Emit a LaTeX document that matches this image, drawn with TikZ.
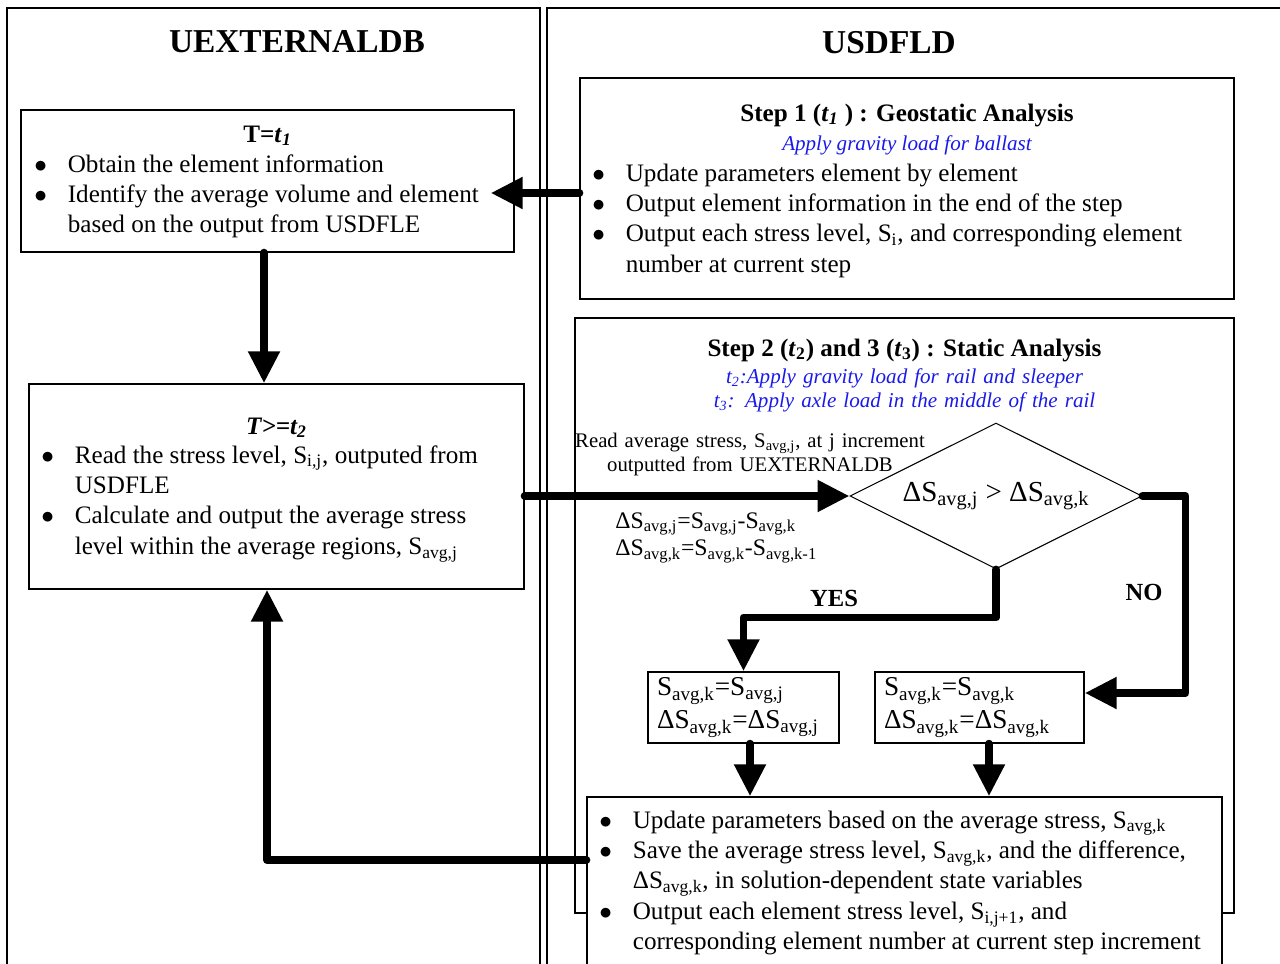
\documentclass[tikz,border=0pt]{standalone}
\usepackage{fontspec}
\setmainfont{Liberation Serif}
\usetikzlibrary{arrows.meta,shapes.geometric}

\definecolor{noteblue}{RGB}{25,25,235}
\newcommand{\bodyfont}{\fontsize{14.3}{17.35}\selectfont}
\newcommand{\sbs}[1]{\textsubscript{#1}}
\newcommand{\dotb}{\hspace{0.05cm}$\bullet$}
\newenvironment{blist}{\begin{tabular}[t]{@{}p{0.72cm}@{}l@{}}}{\end{tabular}}

\begin{document}
\begin{tikzpicture}[x=0.02cm, y=-0.02cm,
    box/.style ={draw, line width=0.8pt, inner sep=0pt},
    flow/.style={line width=4.5pt, line cap=round, line join=round,
                 -{Triangle[length=0.64cm,width=0.6cm]}},
    lst/.style ={anchor=base west, inner sep=0pt, font=\bodyfont},
    ttl/.style ={anchor=base, inner sep=0pt, font=\bodyfont\bfseries},
    note/.style={anchor=base, inner sep=0pt, text=noteblue, font=\fontsize{12}{13.7}\selectfont\itshape},
    head/.style={inner sep=0pt, font=\fontsize{19}{22}\selectfont\bfseries},
    lbl/.style ={inner sep=0pt, font=\fontsize{14}{16}\selectfont\bfseries}]
   \useasboundingbox (0,0) rectangle (1280,963);
   \clip (0,0) rectangle (1280,963);
   % the two columns
   \draw[line width=0.6pt] (7,8) rectangle (540,1000);
   \draw[line width=0.6pt] (547,8) rectangle (1300,1000);
   \node[head] (lhead) at (297,42) {UEXTERNALDB};
   \node[head] (rhead) at (889,43) {USDFLD};

   % UEXTERNALDB side
   \node[box, minimum width=9.86cm, minimum height=2.84cm] (t1) at (267.5,181) {};
   \node[ttl] (t1ttl) at (267.5,142) {T=\textit{t}\sbs{\textit{1}}};
   \node[lst] (t1lst) at (31.5,172) {\begin{blist}
      \dotb & Obtain the element information\\
      \dotb & Identify the average volume and element\\
            & based on the output from USDFLE
      \end{blist}};

   \node[box, minimum width=9.9cm, minimum height=4.1cm] (t2) at (276.5,486.5) {};
   \node[ttl] (t2ttl) at (276.5,434) {\textit{T>=t\sbs{2}}};
   \node[lst] (t2lst) at (38.5,463) {\begin{blist}
      \dotb & Read the stress level, S\sbs{i,j}, outputed from\\
            & USDFLE\\
      \dotb & Calculate and output the average stress\\
            & level within the average regions, S\sbs{avg,j}
      \end{blist}};

   % USDFLD side
   \node[box, minimum width=13.08cm, minimum height=4.42cm] (st1) at (907,188.5) {};
   \node[ttl] (st1ttl) at (907,121) {Step 1 (\textit{t}\sbs{\textit{1}} ) : Geostatic Analysis};
   \node[note] (st1note) at (907,150) {Apply gravity load for ballast};
   \node[lst] (st1lst) at (589.5,181) {\begin{blist}
      \dotb & Update parameters element by element\\
      \dotb & Output element information in the end of the step\\
      \dotb & Output each stress level, S\sbs{i}, and corresponding element\\
            & number at current step
      \end{blist}};

   \node[box, minimum width=13.18cm, minimum height=11.9cm] (st2) at (904.5,615.5) {};
   \node[ttl] (st2ttl) at (904.5,356) {Step 2 (\textit{t}\sbs{2}) and 3 (\textit{t}\sbs{3}) : Static Analysis};
   \node[note, text width=9cm, align=center] (st2note) at (904.5,383)
      {t\sbs{2}:Apply gravity load for rail and sleeper\\ t\sbs{3}: Apply axle load in the middle of the rail};

   \node[diamond, aspect=2, draw, line width=0.6pt, minimum width=5.84cm, minimum height=2.92cm, inner sep=0pt,
         font=\fontsize{16.5}{19}\selectfont] (dia) at (996,496) {ΔS\sbs{avg,j} > ΔS\sbs{avg,k}};
   \node[anchor=base, inner sep=0pt, text width=8cm, align=center, font=\fontsize{11.8}{14.2}\selectfont]
      (read) at (750,447) {Read average stress, S\sbs{avg,j}, at j increment\\ outputted from UEXTERNALDB};
   \node[anchor=base west, inner sep=0pt, text width=6cm, align=left, font=\fontsize{13.5}{15.9}\selectfont]
      (delta) at (615,528) {ΔS\sbs{avg,j}=S\sbs{avg,j}-S\sbs{avg,k}\\ ΔS\sbs{avg,k}=S\sbs{avg,k}-S\sbs{avg,k-1}};

   \node[box, minimum width=3.82cm, minimum height=1.42cm, inner xsep=0.18cm, text width=3.46cm,
         align=left, font=\fontsize{15.5}{19}\selectfont] (yes) at (743.5,707.5)
      {S\sbs{avg,k}=S\sbs{avg,j}\\ ΔS\sbs{avg,k}=ΔS\sbs{avg,j}};
   \node[box, minimum width=4.18cm, minimum height=1.42cm, inner xsep=0.18cm, text width=3.82cm,
         align=left, font=\fontsize{15.5}{19}\selectfont] (no) at (979.5,707.5)
      {S\sbs{avg,k}=S\sbs{avg,k}\\ ΔS\sbs{avg,k}=ΔS\sbs{avg,k}};
   \node[lbl] (yeslbl) at (834,598) {YES};
   \node[lbl] (nolbl) at (1144,592) {NO};

   \node[box, fill=white, minimum width=12.7cm, minimum height=4.06cm] (bot) at (904.5,898.5) {};
   \node[lst] (botlst) at (596.5,828) {\begin{blist}
      \dotb & Update parameters based on the average stress, S\sbs{avg,k}\\
      \dotb & Save the average stress level, S\sbs{avg,k}, and the difference,\\
            & ΔS\sbs{avg,k}, in solution-dependent state variables\\
      \dotb & Output each element stress level, S\sbs{i,j+1}, and\\
            & corresponding element number at current step increment
      \end{blist}};

   % flow arrows
   \draw[flow] (st1.west |- 0,193) -- ([xshift=-0.48cm]t1.east |- 0,193);
   \draw[flow] (t1.south -| 264,0) -- (t2.north -| 264,0);
   \draw[flow] (t2.east |- dia.west) -- (dia.west);
   \draw[flow] (dia.south) -- ++(0,48) -| (yes.north);
   \draw[flow] (dia.east) -- ++(43,0) |- (no.east |- 0,693);
   \draw[flow] (yes.south -| 750,0) -- (bot.north -| 750,0);
   \draw[flow] (no.south -| 989,0) -- (bot.north -| 989,0);
   \draw[flow] (bot.west |- 0,860) -| (t2.south -| 267,0);
\end{tikzpicture}
\end{document}
